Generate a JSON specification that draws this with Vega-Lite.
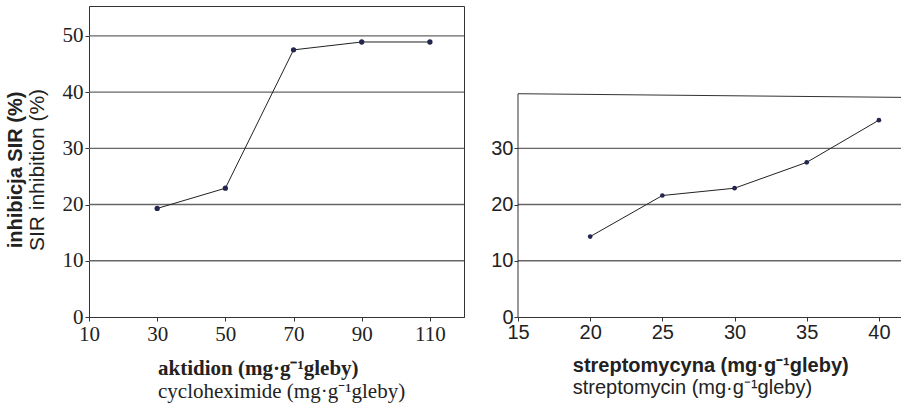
{
  "$schema": "https://vega.github.io/schema/vega-lite/v6.json",
  "padding": {"left": 5, "top": 5, "right": 0, "bottom": 5},
  "background": "white",
  "datasets": {
    "akt": [
      {"dose": 30, "inh": 19.3},
      {"dose": 50, "inh": 22.9},
      {"dose": 70, "inh": 47.5},
      {"dose": 90, "inh": 48.9},
      {"dose": 110, "inh": 48.9}
    ],
    "strep": [
      {"dose": 20, "inh": 14.3},
      {"dose": 25, "inh": 21.6},
      {"dose": 30, "inh": 22.9},
      {"dose": 35, "inh": 27.5},
      {"dose": 40, "inh": 35.0}
    ],
    "frame": [
      {"x": 15, "y": 0, "x2": 15, "y2": 39.7},
      {"x": 15, "y": 39.7, "x2": 41.6, "y2": 39.05}
    ]
  },
  "config": {
    "axis": {"grid": false, "domainColor": "#333", "tickColor": "#333", "tickSize": 4, "labelColor": "#222", "titleColor": "#222"},
    "title": {"color": "#222", "subtitleColor": "#222"}
  },
  "spacing": 24,
  "hconcat": [
    {
      "title": {
        "text": "inhibicja SIR (%)",
        "subtitle": "SIR inhibition (%)",
        "orient": "left",
        "anchor": "middle",
        "dx": 34,
        "font": "Liberation Sans",
        "fontSize": 20,
        "fontWeight": "bold",
        "subtitleFont": "Liberation Sans",
        "subtitleFontSize": 21,
        "subtitleFontWeight": "normal",
        "subtitlePadding": 1,
        "offset": 14
      },
      "vconcat": [
        {
          "title": {
            "text": "aktidion (mg·g⁻¹gleby)",
            "subtitle": "cycloheximide (mg·g⁻¹gleby)",
            "orient": "bottom",
            "anchor": "start",
            "dx": 96,
            "font": "Liberation Serif",
            "fontSize": 21,
            "fontWeight": "bold",
            "subtitleFont": "Liberation Serif",
            "subtitleFontSize": 21,
            "subtitleFontWeight": "normal",
            "subtitlePadding": 2,
            "offset": 14
          },
          "width": 375,
          "height": 311,
          "view": {"stroke": "#333", "strokeWidth": 1},
          "data": {"name": "akt"},
          "layer": [
            {
              "mark": {"type": "rule", "color": "#666", "strokeWidth": 1.3},
              "data": {"values": [{"g": 10}, {"g": 20}, {"g": 30}, {"g": 40}, {"g": 50}]},
              "encoding": {"y": {"field": "g", "type": "quantitative", "scale": {"domain": [0, 55.3], "nice": false}}}
            },
            {
              "mark": {"type": "line", "color": "#222", "strokeWidth": 1},
              "encoding": {
                "x": {"field": "dose", "type": "quantitative", "scale": {"domain": [10, 120], "nice": false, "zero": false},
                  "axis": {"values": [10, 30, 50, 70, 90, 110], "title": null, "labelFont": "Liberation Serif", "labelFontSize": 21, "labelPadding": 2, "labelFlush": false}},
                "y": {"field": "inh", "type": "quantitative", "scale": {"domain": [0, 55.3], "nice": false},
                  "axis": {"values": [0, 10, 20, 30, 40, 50], "title": null, "labelFont": "Liberation Serif", "labelFontSize": 21, "labelPadding": 2, "labelFlush": false}}
              }
            },
            {
              "mark": {"type": "point", "filled": true, "color": "#25264f", "size": 28, "opacity": 1},
              "encoding": {
                "x": {"field": "dose", "type": "quantitative"},
                "y": {"field": "inh", "type": "quantitative"}
              }
            }
          ]
        }
      ]
    },
    {
      "title": {
        "text": "streptomycyna (mg·g⁻¹gleby)",
        "subtitle": "streptomycin (mg·g⁻¹gleby)",
        "orient": "bottom",
        "anchor": "start",
        "dx": 82,
        "font": "Liberation Sans",
        "fontSize": 20,
        "fontWeight": "bold",
        "subtitleFont": "Liberation Sans",
        "subtitleFontSize": 20,
        "subtitleFontWeight": "normal",
        "subtitlePadding": 2,
        "offset": 14
      },
      "width": 384,
      "height": 311,
      "view": {"stroke": null},
      "data": {"name": "strep"},
      "layer": [
        {
          "mark": {"type": "rule", "color": "#666", "strokeWidth": 1.3},
          "data": {"values": [{"g": 10}, {"g": 20}, {"g": 30}]},
          "encoding": {"y": {"field": "g", "type": "quantitative", "scale": {"domain": [0, 55.3], "nice": false}}}
        },
        {
          "mark": {"type": "rule", "color": "#333", "strokeWidth": 1},
          "data": {"name": "frame"},
          "encoding": {
            "x": {"field": "x", "type": "quantitative"},
            "x2": {"field": "x2"},
            "y": {"field": "y", "type": "quantitative"},
            "y2": {"field": "y2"}
          }
        },
        {
          "mark": {"type": "line", "color": "#222", "strokeWidth": 1},
          "encoding": {
            "x": {"field": "dose", "type": "quantitative", "scale": {"domain": [15, 41.6], "nice": false, "zero": false},
              "axis": {"values": [15, 20, 25, 30, 35, 40], "title": null, "labelFont": "Liberation Sans", "labelFontSize": 20, "labelPadding": 1, "labelFlush": false}},
            "y": {"field": "inh", "type": "quantitative", "scale": {"domain": [0, 55.3], "nice": false},
              "axis": {"values": [0, 10, 20, 30], "title": null, "domain": false, "labelFont": "Liberation Sans", "labelFontSize": 20, "labelPadding": 1, "labelFlush": false}}
          }
        },
        {
          "mark": {"type": "point", "filled": true, "color": "#25264f", "size": 22, "opacity": 1},
          "encoding": {
            "x": {"field": "dose", "type": "quantitative"},
            "y": {"field": "inh", "type": "quantitative"}
          }
        }
      ]
    }
  ]
}
